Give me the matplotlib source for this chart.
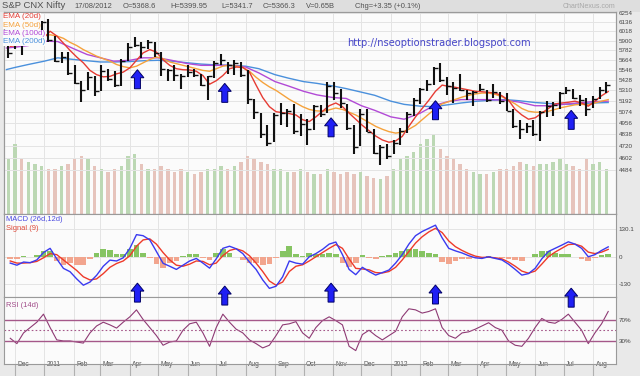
import matplotlib
matplotlib.use("Agg")
import matplotlib.pyplot as plt
import matplotlib.dates as mdates
import numpy as np
import pandas as pd
from matplotlib.patches import Polygon
from matplotlib.ticker import NullLocator
from matplotlib.transforms import ScaledTranslation, IdentityTransform

W, H = 640, 376

# weekly samples (week ending Friday)
weeks = pd.date_range("2010-11-26", "2012-08-17", freq="W-FRI")

high = [5990, 6020, 6010, 5960, 6030, 6150,
        6181, 5960, 5760, 5760, 5600, 5420, 5520, 5480, 5600, 5560, 5530, 5670,
        5870, 5944, 5880, 5910, 5890, 5760, 5560, 5600, 5500, 5600, 5560, 5500, 5480,
        5650, 5740, 5640, 5660, 5640, 5550, 5210, 5060, 4930, 5060, 5170, 5100, 5160, 5050,
        5000, 5150, 5150, 5400, 5400, 5330, 5160, 4930, 5100, 5100, 4890, 4730, 4740,
        4780, 4900, 5070, 5220, 5340, 5430, 5580, 5630, 5460, 5400, 5500, 5320, 5300,
        5380, 5320, 5380, 5290, 5280, 5100, 4990, 4960, 4990, 5080, 5190, 5180, 5290,
        5350, 5330, 5260, 5220, 5250, 5350, 5400]
low = [5690, 5800, 5720, 5850, 5900, 5980,
       5890, 5640, 5630, 5490, 5380, 5177, 5320, 5250, 5300, 5420, 5350, 5360,
       5650, 5820, 5690, 5800, 5700, 5480, 5420, 5420, 5330, 5460, 5460, 5360, 5200,
       5450, 5600, 5500, 5490, 5460, 5160, 5000, 4800, 4720, 4760, 4930, 4910, 4840, 4820,
       4730, 4880, 5020, 5060, 5200, 5120, 4880, 4640, 4720, 4860, 4640, 4530, 4590,
       4640, 4730, 4850, 5030, 5160, 5300, 5370, 5400, 5260, 5170, 5300, 5200, 5140,
       5300, 5180, 5220, 5160, 5080, 4900, 4790, 4850, 4820, 4770, 5020, 5030, 5100,
       5270, 5210, 5140, 5030, 5110, 5210, 5280]
close = [5752, 5992, 5857, 5948, 6011, 6134,
         5904, 5654, 5696, 5512, 5395, 5310, 5458, 5303, 5538, 5445, 5373, 5654,
         5826, 5842, 5824, 5884, 5749, 5552, 5544, 5486, 5476, 5516, 5485, 5366, 5471,
         5627, 5660, 5599, 5633, 5482, 5211, 5073, 4845, 4747, 5040, 5059, 5084, 4868, 4943,
         4888, 5132, 5050, 5360, 5284, 5168, 4906, 4710, 5050, 4866, 4651, 4714, 4624,
         4754, 4867, 5049, 5205, 5325, 5381, 5564, 5429, 5359, 5333, 5318, 5278, 5296,
         5323, 5207, 5290, 5190, 5086, 4928, 4891, 4920, 4841, 5068, 5139, 5146, 5278,
         5317, 5227, 5205, 5100, 5215, 5320, 5366]
volume = [0.55, 0.70, 0.55, 0.52, 0.50, 0.48, 0.45, 0.45, 0.48, 0.50,
          0.55, 0.58, 0.55, 0.48, 0.45, 0.42, 0.45, 0.48, 0.58, 0.60,
          0.50, 0.45, 0.45, 0.48, 0.45, 0.42, 0.45, 0.42, 0.40, 0.42,
          0.45, 0.45, 0.48, 0.45, 0.48, 0.52, 0.58, 0.55, 0.52, 0.50,
          0.45, 0.45, 0.42, 0.42, 0.45, 0.42, 0.40, 0.40, 0.45, 0.42,
          0.40, 0.42, 0.40, 0.42, 0.38, 0.36, 0.35, 0.38, 0.45, 0.55,
          0.58, 0.62, 0.70, 0.75, 0.80, 0.65, 0.58, 0.55, 0.50, 0.45,
          0.42, 0.40, 0.40, 0.42, 0.45, 0.45, 0.48, 0.52, 0.50, 0.48,
          0.50, 0.50, 0.52, 0.55, 0.50, 0.48, 0.45, 0.55, 0.50, 0.52, 0.45]

ema20 = [5830, 5840, 5850, 5870, 5890, 5930, 6020, 5960, 5870, 5780,
         5700, 5630, 5540, 5490, 5465, 5470, 5500, 5520, 5570, 5660,
         5750, 5790, 5760, 5666, 5600, 5560, 5548, 5545, 5530, 5480,
         5380, 5420, 5480, 5560, 5580, 5575, 5520, 5370, 5230, 5130,
         5075, 5065, 5055, 5040, 4990, 4970, 5020, 5080, 5140, 5170,
         5130, 5060, 4995, 4930, 4875, 4820, 4780, 4757, 4770, 4816,
         4920, 5020, 5110, 5200, 5300, 5370, 5355, 5345, 5330, 5315,
         5300, 5295, 5288, 5280, 5250, 5200, 5100, 5040, 4995, 5010,
         5060, 5110, 5160, 5170, 5178, 5190, 5170, 5135, 5190, 5250, 5297]
ema50 = [5950, 5945, 5940, 5940, 5950, 5965, 5975, 5960, 5930, 5880,
         5840, 5790, 5750, 5710, 5680, 5650, 5610, 5585, 5570, 5590,
         5630, 5670, 5700, 5680, 5640, 5620, 5600, 5580, 5560, 5540,
         5530, 5560, 5590, 5600, 5590, 5575, 5530, 5460, 5400, 5350,
         5310, 5260, 5210, 5170, 5130, 5100, 5085, 5080, 5095, 5115,
         5100, 5070, 5040, 5000, 4960, 4920, 4890, 4865, 4850, 4860,
         4890, 4930, 4990, 5050, 5110, 5160, 5185, 5210, 5235, 5255,
         5270, 5280, 5280, 5265, 5240, 5200, 5160, 5110, 5080, 5070,
         5070, 5080, 5100, 5120, 5135, 5150, 5155, 5150, 5170, 5190, 5207]

# slower averages, read twice a month
semi = pd.to_datetime(["2010-11-22", "2010-12-01", "2010-12-15"] +
                      [f"2011-{m:02d}-{d:02d}" for m in range(1, 13) for d in (1, 15)] +
                      [f"2012-{m:02d}-{d:02d}" for m in range(1, 8) for d in (1, 15)] +
                      ["2012-08-01", "2012-08-17"])
ema100 = [5810, 5820, 5840, 5895, 5890, 5800, 5730, 5690, 5650, 5660, 5690, 5690, 5660,
          5620, 5600, 5600, 5600, 5580, 5510, 5410, 5360, 5300, 5260, 5230, 5220, 5140,
          5090, 5020, 4995, 5060, 5140, 5185, 5207, 5207, 5207, 5200, 5180, 5140, 5140,
          5155, 5170, 5185, 5190]
ema200 = [5550, 5575, 5610, 5650, 5690, 5670, 5655, 5640, 5640, 5645, 5655, 5660, 5650,
          5630, 5615, 5605, 5600, 5590, 5560, 5490, 5450, 5410, 5390, 5360, 5330, 5290,
          5255, 5190, 5155, 5135, 5130, 5150, 5170, 5190, 5200, 5207, 5195, 5175, 5165,
          5155, 5160, 5170, 5175]

macd = [-30, -40, -25, -28, -15, 20, 40, -10, -55, -71,
        -105, -135, -120, -88, -45, -16, -20, -5, 40, 105,
        100, 80, 25, -31, -45, -60, -40, -20, -8, -30,
        -54, -10, 40, 50, 38, 15, -25, -60, -110, -150,
        -140, -95, -20, -30, -35, 0, 15, 35, 60, 70,
        10, -60, -85, -50, -70, -87, -75, -63, -30, 10,
        60, 100, 120, 135, 150, 90, 40, 28, 18, 5,
        -5, -8, 0, -8, -15, -35, -60, -87, -80, -55,
        -10, 25, 40, 55, 71, 60, 40, 0, 10, 30, 47]
signal = [-20, -30, -30, -28, -22, -5, 15, 10, -15, -40,
          -65, -95, -110, -105, -80, -50, -32, -20, 5, 50,
          80, 85, 60, 20, -15, -40, -45, -35, -20, -22,
          -38, -30, 5, 30, 38, 28, 5, -30, -70, -115,
          -135, -120, -70, -45, -38, -20, 0, 20, 40, 58,
          40, -10, -55, -58, -62, -75, -77, -70, -50, -15,
          25, 65, 95, 118, 135, 115, 75, 48, 30, 15,
          3, -3, -2, -5, -10, -25, -45, -68, -78, -68,
          -35, 0, 22, 40, 58, 60, 50, 22, 15, 22, 35]
rsi = [35, 25, 45, 55, 65, 80, 55, 32, 30, 30,
       28, 26, 45, 58, 65, 60, 54, 65, 75, 88,
       70, 55, 40, 22, 28, 30, 50, 62, 65, 45,
       20, 55, 80, 65, 52, 45, 32, 25, 17, 22,
       40, 60, 62, 66, 45, 35, 55, 68, 75, 68,
       60, 20, 12, 42, 50, 40, 32, 40, 48, 75,
       90, 88, 82, 85, 90, 55, 40, 35, 45, 47,
       52, 58, 64, 55, 50, 30, 22, 20, 35, 55,
       72, 65, 63, 70, 80, 65, 50, 25, 45, 62, 85]

price_ticks = [6254, 6136, 6018, 5900, 5782, 5664, 5546, 5428, 5310, 5192,
               5074, 4956, 4838, 4720, 4602, 4484]
arrow_dates = pd.to_datetime(["2011-04-09", "2011-07-10", "2011-10-30",
                              "2012-02-17", "2012-07-09"])
arrow_price = [5548, 5390, 5010, 5195, 5090]
arrow_macd = [-125, -139, -125, -134, -149]

PANEL = "#fbfbfb"
GRID = "#e4e4e4"
EDGE = "#9a9a9a"
plt.rcParams["font.family"] = ["Liberation Sans", "DejaVu Sans"]

fig = plt.figure(figsize=(W / 100, H / 100), dpi=100, facecolor="#e9e9e9")


def box(top, bottom):
    return [4 / W, 1 - bottom / H, 612 / W, (bottom - top) / H]


def px(x, y):
    return x / W, 1 - y / H


ax_v = fig.add_axes(box(12, 214))
ax_p = fig.add_axes(box(12, 214), sharex=ax_v)
ax_m = fig.add_axes(box(214, 297), sharex=ax_v)
ax_r = fig.add_axes(box(297, 364), sharex=ax_v)
ax_p.patch.set_visible(False)

x0, x1 = pd.Timestamp("2010-11-19 10:00"), pd.Timestamp("2012-08-25 05:00")
months = pd.date_range("2010-12-01", "2012-08-01", freq="MS")
month_labels = [str(m.year) if m.month == 1 else m.strftime("%b") for m in months]

for ax in (ax_v, ax_p, ax_m, ax_r):
    ax.set_xlim(x0, x1)
    for s in ax.spines.values():
        s.set_color(EDGE)
        s.set_linewidth(0.8)
for ax in (ax_v, ax_m, ax_r):
    ax.set_facecolor(PANEL)
    ax.set_xticks(months)
    ax.grid(True, axis="x", color=GRID, lw=0.7)
    ax.set_axisbelow(True)

# volume (behind the price)
bar_pos = weeks - pd.Timedelta(days=2)
up = np.r_[True, np.diff(close) >= 0]
vcol = np.where(up, "#bcd8b4", "#e6c4bc")
ax_v.bar(bar_pos, volume, width=3.6, color=vcol, lw=0)
ax_v.set_ylim(0, 2.02)
ax_v.set_yticks([])
ax_v.tick_params(axis="x", length=0, labelbottom=False)

# price
ax_p.set_yscale("log")
ax_p.set_ylim(4085, 6271)
ax_p.yaxis.set_minor_locator(NullLocator())
ax_p.set_yticks(price_ticks)
ax_p.set_yticklabels([str(t) for t in price_ticks])
ax_p.yaxis.tick_right()
ax_p.tick_params(axis="y", length=0, pad=2, labelsize=4.5, labelcolor="#444444")
ax_p.tick_params(axis="x", length=0, labelbottom=False)
ax_p.grid(True, axis="y", color=GRID, lw=0.7)

ax_p.plot(semi, ema200, color="#4a90dc", lw=1.0)
ax_p.plot(semi, ema100, color="#b24ad6", lw=1.0)
ax_p.plot(weeks, ema50, color="#f5a23c", lw=1.0)
ax_p.plot(weeks, ema20, color="#e63c34", lw=1.0)
ax_p.vlines(bar_pos, low, high, color="#111111", lw=1.5)
ax_p.plot(bar_pos, close, ls="none", marker=1, ms=2.6, mew=1.0, color="#111111")

ema_labels = [("EMA (20d)", "#e63c34"), ("EMA (50d)", "#f5a23c"),
              ("EMA (100d)", "#b24ad6"), ("EMA (200d)", "#4a90dc")]
for i, (txt, col) in enumerate(ema_labels):
    fig.text(*px(3, 17 + 8.3 * i), txt, color=col, fontsize=5.8, va="center",
             bbox=dict(facecolor=PANEL, edgecolor="none", pad=0.3))

fig.text(*px(439, 43), "http://nseoptionstrader.blogspot.com", family="DejaVu Sans",
         fontsize=7.1, color="#4646c8", ha="center", va="center")

# MACD
hist = np.array(macd) - np.array(signal)
ax_m.bar(weeks, hist, width=6.0, color=np.where(hist >= 0, "#86c462", "#f2a58e"), lw=0)
ax_m.plot(weeks, signal, color="#ee3a2a", lw=1.0)
ax_m.plot(weeks, macd, color="#3a3af0", lw=1.0)
ax_m.set_ylim(-191, 203)
ax_m.set_yticks([130.1, 0, -130])
ax_m.set_yticklabels(["130.1", "0", "-130"])
ax_m.yaxis.tick_right()
ax_m.tick_params(axis="y", length=0, pad=2, labelsize=4.5, labelcolor="#444444")
ax_m.tick_params(axis="x", length=0, labelbottom=False)
ax_m.grid(True, axis="y", color=GRID, lw=0.7)
ax_m.text(0.003, 0.93, "MACD (26d,12d)", transform=ax_m.transAxes, fontsize=5.4,
          color="#4a4ae0", va="center")
ax_m.text(0.003, 0.82, "Signal (9)", transform=ax_m.transAxes, fontsize=5.4,
          color="#e04a3a", va="center")

# RSI
ax_r.plot(weeks, rsi, color="#8e3a74", lw=0.8)
ax_r.axhline(70, color="#a5588a", lw=1.0)
ax_r.axhline(30, color="#a5588a", lw=1.0)
ax_r.axhline(50, color="#a5588a", lw=0.8, ls=(0, (1.5, 2)))
ax_r.set_ylim(-13, 112)
ax_r.set_yticks([70, 30])
ax_r.set_yticklabels(["70%", "30%"])
ax_r.yaxis.tick_right()
ax_r.tick_params(axis="y", length=0, pad=2, labelsize=4.5, labelcolor="#444444")
ax_r.text(0.003, 0.88, "RSI (14d)", transform=ax_r.transAxes, fontsize=5.4,
          color="#a04a88", va="center")
ax_r.set_xticklabels(month_labels, ha="left", va="center")
ax_r.tick_params(axis="x", length=11, direction="out", color="#b0b0b0", width=0.8,
                 pad=-10.5, labelsize=4.8, labelcolor="#555555")
for lab in ax_r.get_xticklabels():
    lab.set_transform(lab.get_transform() + ScaledTranslation(2.5 / 100, 0, fig.dpi_scale_trans))

# header
fig.patches.append(plt.Rectangle(px(0, 12), 1, 12 / H, transform=fig.transFigure,
                                 facecolor="#dedede", edgecolor="none", zorder=-1))
header = [(2, "S&P CNX Nifty", 6.8), (74, "17/08/2012", 5.4), (123, "O=5368.6", 5.4),
          (170, "H=5399.95", 5.4), (221, "L=5341.7", 5.4), (263, "C=5366.3", 5.4),
          (306, "V=0.65B", 5.4), (355, "Chg=+3.35 (+0.1%)", 5.4)]
for x, txt, fs in header:
    fig.text(*px(x, 6), txt, fontsize=fs, color="#505050", va="center")
fig.text(*px(615, 6), "ChartNexus.com", fontsize=5.0, color="#a8a8a8", va="center", ha="right")

# blue arrows
shape = np.array([(0, 0), (6.5, -8), (3, -8), (3, -19), (-3, -19), (-3, -8), (-6.5, -8)])


def up_arrow(ax, date, yval):
    tip = ax.transData.transform((mdates.date2num(date), yval))
    fig.add_artist(Polygon(tip + shape, closed=True, transform=IdentityTransform(),
                           facecolor="#1f1ff5", edgecolor="#000066", lw=0.7, zorder=10))


for d, p in zip(arrow_dates, arrow_price):
    up_arrow(ax_p, d, p)
for d, m in zip(arrow_dates, arrow_macd):
    up_arrow(ax_m, d, m)

fig.savefig("out.png", dpi=100, facecolor=fig.get_facecolor())
